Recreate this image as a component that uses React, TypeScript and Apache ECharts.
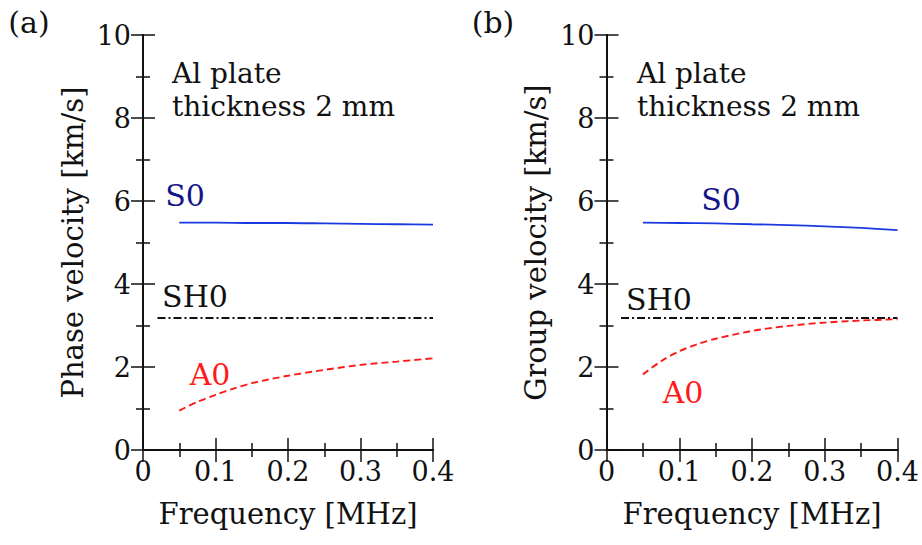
import React, { useEffect, useRef } from "react";
import * as echarts from "echarts";

const FONT = "DejaVu Serif, serif";

// x values (MHz)
const s0Freq = [0.05, 0.1, 0.15, 0.2, 0.25, 0.3, 0.35, 0.4];
const s0Phase = [5.48, 5.48, 5.47, 5.47, 5.46, 5.45, 5.44, 5.43];
const s0Group = [5.48, 5.47, 5.46, 5.44, 5.42, 5.39, 5.35, 5.3];

const a0Freq = [0.05, 0.075, 0.1, 0.125, 0.15, 0.2, 0.25, 0.3, 0.35, 0.4];
const a0Phase = [0.95, 1.16, 1.33, 1.48, 1.61, 1.79, 1.93, 2.05, 2.13, 2.21];
const a0Group = [1.82, 2.14, 2.38, 2.55, 2.68, 2.87, 2.99, 3.07, 3.12, 3.15];

const sh0Freq = [0.02, 0.4];
const sh0Phase = [3.18, 3.18];
const sh0Group = [3.18, 3.18];

const xTicks = [0, 0.1, 0.2, 0.3, 0.4];
const yTicks = [0, 2, 4, 6, 8, 10];

const pairs = (xs: number[], ys: number[]) => xs.map((x, i) => [x, ys[i]]);

const S0_LINE = "#1a3ae0";
const S0_TEXT = "#14148a";
const A0_COLOR = "#ff1a1a";
const TICK_SIZE = 27;
const TITLE_SIZE = 29;
const NOTE_SIZE = 28;
const CURVE_LABEL_SIZE = 30;

function xAxisPair(grid: number) {
  const common = {
    gridIndex: grid,
    type: "value" as const,
    min: xTicks[0],
    max: xTicks[xTicks.length - 1],
    interval: 0.1,
    splitLine: { show: false },
    axisLine: { show: true, lineStyle: { color: "#111", width: 2 } },
    axisTick: { show: true, inside: true, length: 12, lineStyle: { color: "#111", width: 1.5 } },
    minorTick: { show: true, splitNumber: 2, length: 7, lineStyle: { color: "#111", width: 1.5 } },
  };
  return [
    {
      ...common,
      position: "bottom" as const,
      axisLabel: {
        fontSize: TICK_SIZE,
        fontFamily: FONT,
        color: "#111",
        margin: 8,
        formatter: (v: number) => (v === 0 ? "0" : v.toFixed(1)),
      },
      name: "Frequency [MHz]",
      nameLocation: "middle" as const,
      nameGap: 49,
      nameTextStyle: { fontSize: TITLE_SIZE, fontFamily: FONT, color: "#111" },
    },
    { ...common, position: "top" as const, axisLabel: { show: false } },
  ];
}

function yAxisPair(grid: number, name: string) {
  const common = {
    gridIndex: grid,
    type: "value" as const,
    min: yTicks[0],
    max: yTicks[yTicks.length - 1],
    interval: 2,
    splitLine: { show: false },
    axisLine: { show: true, lineStyle: { color: "#111", width: 2 } },
    axisTick: { show: true, inside: true, length: 12, lineStyle: { color: "#111", width: 1.5 } },
    minorTick: { show: true, splitNumber: 2, length: 7, lineStyle: { color: "#111", width: 1.5 } },
  };
  return [
    {
      ...common,
      position: "left" as const,
      axisLabel: { fontSize: TICK_SIZE, fontFamily: FONT, color: "#111", margin: 12 },
      name,
      nameLocation: "middle" as const,
      nameGap: 56,
      nameTextStyle: { fontSize: TITLE_SIZE, fontFamily: FONT, color: "#111" },
    },
    { ...common, position: "right" as const, axisLabel: { show: false } },
  ];
}

function seriesFor(grid: number, s0: number[], a0: number[], sh0: number[]) {
  const xi = grid * 2;
  const yi = grid * 2;
  return [
    {
      type: "line",
      xAxisIndex: xi,
      yAxisIndex: yi,
      data: pairs(s0Freq, s0),
      showSymbol: false,
      smooth: 0.3,
      lineStyle: { color: S0_LINE, width: 1.8 },
    },
    {
      type: "line",
      xAxisIndex: xi,
      yAxisIndex: yi,
      data: pairs(sh0Freq, sh0),
      showSymbol: false,
      lineStyle: { color: "#111", width: 1.9, type: [8, 3, 2, 3] },
    },
    {
      type: "line",
      xAxisIndex: xi,
      yAxisIndex: yi,
      data: pairs(a0Freq, a0),
      showSymbol: false,
      smooth: 0.3,
      lineStyle: { color: A0_COLOR, width: 1.9, type: [7, 4] },
    },
  ];
}

function txt(text: string, x: number, y: number, fill: string, size = CURVE_LABEL_SIZE) {
  return {
    type: "text",
    x,
    y,
    style: {
      text,
      fill,
      fontSize: size,
      fontFamily: FONT,
      textAlign: "center",
      textVerticalAlign: "middle",
    },
  };
}

function leftTxt(text: string, x: number, y: number) {
  return {
    type: "text",
    x,
    y,
    style: {
      text,
      fill: "#111",
      fontSize: NOTE_SIZE,
      fontFamily: FONT,
      textAlign: "left",
      textVerticalAlign: "middle",
    },
  };
}

export default function App() {
  const ref = useRef<HTMLDivElement>(null);
  useEffect(() => {
    if (!ref.current) return;
    const chart = echarts.init(ref.current, null, { renderer: "svg" });
    const option = {
      animation: false,
      backgroundColor: "#ffffff",
      textStyle: { fontFamily: FONT },
      grid: [
        { left: 143, top: 35, width: 290, height: 415 },
        { left: 606.5, top: 35, width: 291.5, height: 415 },
      ],
      xAxis: [...xAxisPair(0), ...xAxisPair(1)],
      yAxis: [
        ...yAxisPair(0, "Phase velocity [km/s]"),
        ...yAxisPair(1, "Group velocity [km/s]"),
      ],
      series: [
        ...seriesFor(0, s0Phase, a0Phase, sh0Phase),
        ...seriesFor(1, s0Group, a0Group, sh0Group),
      ],
      graphic: [
        txt("(a)", 29, 22, "#111", 30),
        txt("(b)", 493, 22, "#111", 30),
        leftTxt("Al plate", 172, 73),
        leftTxt("thickness 2 mm", 172, 106),
        leftTxt("Al plate", 637, 73),
        leftTxt("thickness 2 mm", 637, 106),
        txt("S0", 185, 195, S0_TEXT),
        txt("SH0", 195, 296, "#111"),
        txt("A0", 210, 374, A0_COLOR),
        txt("S0", 721, 199, S0_TEXT),
        txt("SH0", 659, 299, "#111"),
        txt("A0", 683, 392, A0_COLOR),
      ],
    };
    chart.setOption(option as any);
    return () => chart.dispose();
  }, []);
  return (
    <div
      ref={ref}
      style={{ position: "fixed", left: 0, top: 0, width: 922, height: 545, background: "#fff" }}
    />
  );
}
